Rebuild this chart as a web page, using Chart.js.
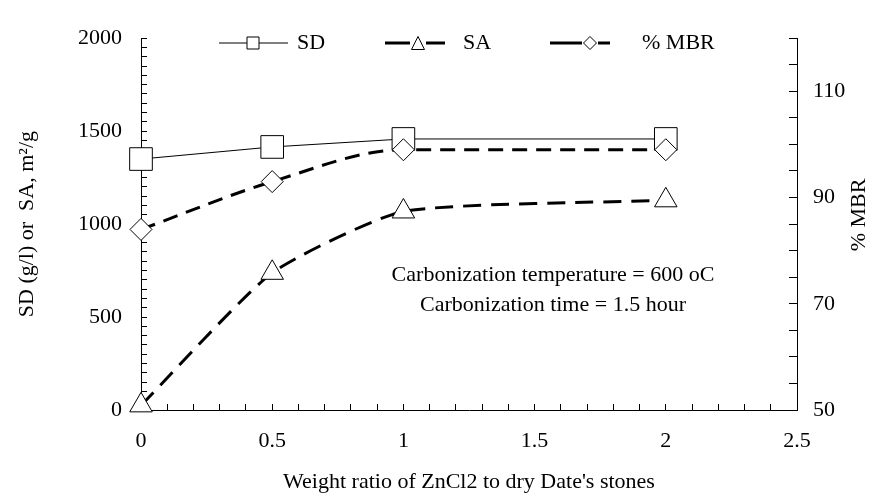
<!DOCTYPE html>
<html><head><meta charset="utf-8">
<script src="https://cdn.jsdelivr.net/npm/chart.js@4/dist/chart.umd.min.js"></script>
<style>html,body{margin:0;padding:0;background:#fff;}</style>
</head><body>
<canvas id="c" width="872" height="502"></canvas>
<script>
// ---- data ----
const ratio = [0, 0.5, 1, 2];
const sdValues = [1350, 1415, 1458, 1458];
const saValues = [25, 738, 1068, 1128];
const mbrValues = [84, 93, 99, 99];
const xTickLabels = [0, 0.5, 1, 1.5, 2, 2.5];
const leftTickLabels = [0, 500, 1000, 1500, 2000];
const rightTickLabels = [50, 70, 90, 110];
const seriesNames = ['SD', 'SA', '% MBR'];
const xTitle = "Weight ratio of ZnCl2 to dry Date's stones";
const leftTitle = 'SD (g/l) or  SA, m²/g';
const rightTitle = '% MBR';
const noteLines = ['Carbonization temperature = 600 oC', 'Carbonization time = 1.5 hour'];

const FONT = "'Liberation Serif', 'Times New Roman', serif";
Chart.defaults.font.family = FONT;
Chart.defaults.font.size = 22;
Chart.defaults.color = '#000';

const toPts = vals => ratio.map((x, i) => ({x: x, y: vals[i]}));
const labelFrom = list => v => {
  const hit = list.find(t => Math.abs(t - v) < 1e-9);
  return hit === undefined ? '' : String(hit);
};

const legendItems = [
  {ds: 0, x0: 219, x1: 288, mx: 253, tx: 297},
  {ds: 1, x0: 385, x1: 445, mx: 418, tx: 463},
  {ds: 2, x0: 550, x1: 610, mx: 590, tx: 642}
];

function drawMarker(ctx, style, x, y, s) {
  ctx.beginPath();
  if (style === 'rect') {
    ctx.rect(x - s / 2, y - s / 2, s, s);
  } else if (style === 'triangle') {
    ctx.moveTo(x, y - s / 2);
    ctx.lineTo(x + s / 2, y + s / 2);
    ctx.lineTo(x - s / 2, y + s / 2);
    ctx.closePath();
  } else {
    ctx.moveTo(x, y - s / 2);
    ctx.lineTo(x + s / 2, y);
    ctx.lineTo(x, y + s / 2);
    ctx.lineTo(x - s / 2, y);
    ctx.closePath();
  }
  ctx.fillStyle = '#fff';
  ctx.fill();
  ctx.lineWidth = 1;
  ctx.strokeStyle = '#000';
  ctx.stroke();
}

const decorPlugin = {
  id: 'decor',
  afterDatasetsDraw(chart) {
    const ctx = chart.ctx;
    ctx.save();
    ctx.fillStyle = '#000';
    ctx.font = '22px ' + FONT;
    ctx.textBaseline = 'middle';
    ctx.textAlign = 'center';
    ctx.fillText(noteLines[0], 553, 275);
    ctx.fillText(noteLines[1], 553, 305);
    ctx.save();
    ctx.translate(859, 215);
    ctx.rotate(-Math.PI / 2);
    ctx.fillText(rightTitle, 0, 0);
    ctx.restore();
    // legend
    const ly = 43;
    legendItems.forEach(it => {
      const ds = chart.data.datasets[it.ds];
      ctx.strokeStyle = '#000';
      ctx.lineWidth = ds.borderWidth;
      ctx.setLineDash([]);
      ctx.beginPath();
      if (ds.borderDash && ds.borderDash.length) {
        ctx.moveTo(it.x0, ly); ctx.lineTo(it.mx - 8, ly);
        ctx.moveTo(it.mx + 8, ly); ctx.lineTo(it.x1, ly);
      } else {
        ctx.moveTo(it.x0, ly); ctx.lineTo(it.x1, ly);
      }
      ctx.stroke();
      drawMarker(ctx, ds.pointStyle, it.mx, ly, ds.pointStyle === 'rect' ? 12 : 13);
      ctx.fillStyle = '#000';
      ctx.textAlign = 'left';
      ctx.fillText(seriesNames[it.ds], it.tx, ly);
    });
    ctx.restore();
  }
};

new Chart(document.getElementById('c'), {
  type: 'line',
  data: {
    datasets: [
      {label: seriesNames[0], data: toPts(sdValues), yAxisID: 'y', clip: false,
       borderColor: '#000', borderWidth: 1, pointStyle: 'rect', pointRadius: 16,
       pointBackgroundColor: '#fff', pointBorderColor: '#000', pointBorderWidth: 1,
       tension: 0, order: 2},
      {label: seriesNames[1], data: toPts(saValues), yAxisID: 'y', clip: false,
       borderColor: '#000', borderWidth: 3, borderDash: [18, 10], pointStyle: 'triangle', pointRadius: 13,
       pointBackgroundColor: '#fff', pointBorderColor: '#000', pointBorderWidth: 1,
       tension: 0.18, order: 1},
      {label: seriesNames[2], data: toPts(mbrValues), yAxisID: 'y1', clip: false,
       borderColor: '#000', borderWidth: 3, borderDash: [15, 9], pointStyle: 'rectRot', pointRadius: 11,
       pointBackgroundColor: '#fff', pointBorderColor: '#000', pointBorderWidth: 1,
       cubicInterpolationMode: 'monotone', order: 0}
    ]
  },
  options: {
    responsive: false,
    animation: false,
    devicePixelRatio: 1,
    layout: {padding: {top: 20, left: 0, right: 0, bottom: 0}},
    plugins: {legend: {display: false}, tooltip: {enabled: false}},
    scales: {
      x: {
        type: 'linear', position: 'bottom', min: 0, max: 2.5,
        ticks: {stepSize: 0.1, autoSkip: false, maxRotation: 0, maxTicksLimit: 1000, padding: 24,
                callback: labelFrom(xTickLabels)},
        grid: {drawOnChartArea: false, drawTicks: true, tickLength: -6, tickColor: '#000', color: '#000'},
        border: {display: true, color: '#000', width: 1},
        title: {display: true, text: xTitle, padding: {top: 0, bottom: 7}},
        afterFit: s => { s.height = 92; }
      },
      y: {
        type: 'linear', position: 'left', min: 0, max: 2000,
        ticks: {stepSize: 50, autoSkip: false, maxTicksLimit: 1000, padding: 25,
                callback: labelFrom(leftTickLabels)},
        grid: {drawOnChartArea: false, drawTicks: true, tickLength: -6, tickColor: '#000', color: '#000'},
        border: {display: true, color: '#000', width: 1},
        title: {display: true, text: leftTitle, padding: {top: 14, bottom: 0}},
        afterFit: s => { s.width = 141; }
      },
      y1: {
        type: 'linear', position: 'right', min: 50, max: 120,
        ticks: {stepSize: 5, autoSkip: false, maxTicksLimit: 1000, padding: 24,
                callback: labelFrom(rightTickLabels)},
        grid: {drawOnChartArea: false, drawTicks: true, tickLength: -8, tickColor: '#000', color: '#000'},
        border: {display: true, color: '#000', width: 1},
        title: {display: false},
        afterFit: s => { s.width = 75; }
      }
    }
  },
  plugins: [decorPlugin]
});
</script>
</body></html>
